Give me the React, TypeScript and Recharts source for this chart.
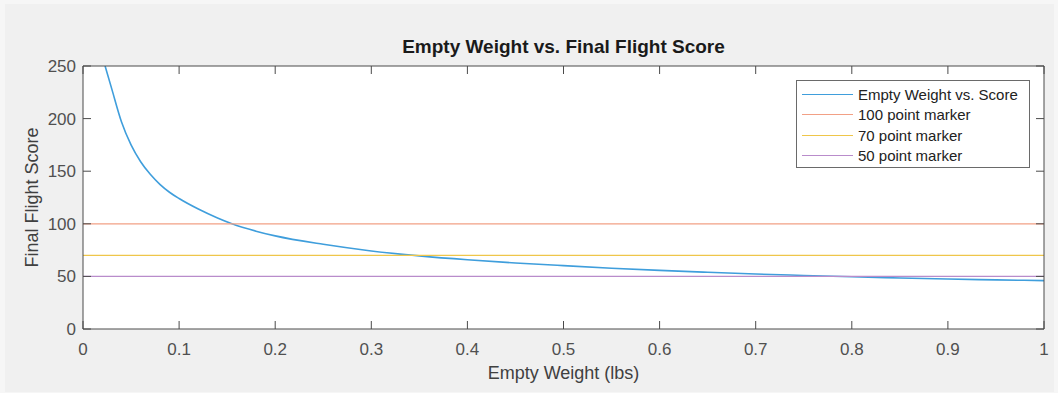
import React from 'react';
import { LineChart, Line, XAxis, YAxis, CartesianGrid, Legend, Label } from 'recharts';

// empty weight (lbs) and the final flight score
const weights = [
  0.023, 0.03, 0.04, 0.05, 0.06, 0.07, 0.08, 0.09, 0.1, 0.12, 0.14, 0.155, 0.18, 0.2, 0.25,
  0.3, 0.35, 0.4, 0.45, 0.5, 0.55, 0.6, 0.65, 0.7, 0.75, 0.8, 0.85, 0.9, 0.95, 1.0,
];
const scores = [
  250, 228, 197, 175, 159, 147, 137.5, 130, 124, 114, 105.5, 100, 93, 88.5, 80.5,
  74.2, 69.5, 65.8, 62.8, 60.2, 57.8, 55.7, 53.9, 52.3, 50.9, 49.6, 48.5, 47.5, 46.7, 46,
];

const curveName = 'Empty Weight vs. Score';
const markerLevels = [100, 70, 50];
const markerNames = ['100 point marker', '70 point marker', '50 point marker'];
const markerColors = ['#f2a085', '#efc64a', '#b98ccb'];

const xTicks = [0, 0.1, 0.2, 0.3, 0.4, 0.5, 0.6, 0.7, 0.8, 0.9, 1];
const yTicks = [0, 50, 100, 150, 200, 250];

const CURVE_COLOR = '#3f9edc';
const AXIS_COLOR = '#4a4a4a';
const FONT = '"Liberation Sans", Arial, sans-serif';

const curveData = weights.map((w, i) => ({ weight: w, score: scores[i] }));
const markerData = (level: number) => [
  { weight: 0, score: level },
  { weight: 1, score: level },
];
const noLabel = () => '';

function FigureLegend() {
  const names = [curveName, ...markerNames];
  const colors = [CURVE_COLOR, ...markerColors];
  return (
    <div
      style={{
        background: '#fff',
        border: '1px solid #6a6a6a',
        padding: '3px 6px 1px 5px',
        fontFamily: FONT,
        fontSize: 15,
        color: '#222',
        boxSizing: 'border-box',
        width: 234,
      }}
    >
      {names.map((name, i) => (
        <div key={name} style={{ display: 'flex', alignItems: 'center', height: 20.5 }}>
          <span style={{ width: 51, borderTop: `1.5px solid ${colors[i]}`, marginRight: 5 }} />
          <span>{name}</span>
        </div>
      ))}
    </div>
  );
}

export default function App() {
  const tickStyle = { fontSize: 17, fill: '#505050', fontFamily: FONT };
  return (
    <div
      style={{
        position: 'absolute',
        left: 0,
        top: 0,
        width: 1058,
        height: 393,
        background: '#f6f6f6',
      }}
    >
      <div
        style={{
          position: 'absolute',
          left: 5,
          top: 4,
          right: 4,
          bottom: 1,
          background: '#f0f0f0',
        }}
      />
      <div
        style={{
          position: 'absolute',
          top: 36,
          left: 83,
          width: 961,
          textAlign: 'center',
          fontFamily: FONT,
          fontWeight: 'bold',
          fontSize: 19,
          color: '#1a1a1a',
        }}
      >
        Empty Weight vs. Final Flight Score
      </div>
      <LineChart
        width={1058}
        height={393}
        margin={{ top: 65, right: 13, bottom: 14, left: 0 }}
        style={{ position: 'absolute', left: 0, top: 0 }}
      >
        <CartesianGrid fill="#fff" horizontal={false} vertical={false} />
        <XAxis
          xAxisId="main"
          dataKey="weight"
          type="number"
          domain={[0, 1]}
          ticks={xTicks}
          allowDataOverflow
          height={50}
          tickSize={-8}
          tickMargin={22}
          stroke={AXIS_COLOR}
          tick={tickStyle}
          interval={0}
        >
          <Label
            value="Empty Weight (lbs)"
            position="insideBottom"
            offset={0}
            style={{ fontSize: 18, fill: '#404040', fontFamily: FONT }}
          />
        </XAxis>
        <XAxis
          xAxisId="top"
          orientation="top"
          dataKey="weight"
          type="number"
          domain={[0, 1]}
          ticks={xTicks}
          allowDataOverflow
          height={1}
          tickSize={-8}
          tickFormatter={noLabel}
          stroke={AXIS_COLOR}
          interval={0}
        />
        <YAxis
          yAxisId="main"
          type="number"
          domain={[0, 250]}
          ticks={yTicks}
          allowDataOverflow
          width={83}
          tickSize={-8}
          tickMargin={15}
          stroke={AXIS_COLOR}
          tick={tickStyle}
          interval={0}
        >
          <Label
            value="Final Flight Score"
            angle={-90}
            position="insideLeft"
            offset={32}
            style={{ fontSize: 18, fill: '#404040', fontFamily: FONT, textAnchor: 'middle' }}
          />
        </YAxis>
        <YAxis
          yAxisId="right"
          orientation="right"
          type="number"
          domain={[0, 250]}
          ticks={yTicks}
          allowDataOverflow
          width={1}
          tickSize={-8}
          tickFormatter={noLabel}
          stroke={AXIS_COLOR}
          interval={0}
        />
        <Legend
          layout="vertical"
          align="center"
          verticalAlign="middle"
          wrapperStyle={{ top: 80, left: 796, width: 234 }}
          content={<FigureLegend />}
        />
        {/* invisible copy so the top and right box axes get a scale */}
        <Line
          xAxisId="top"
          yAxisId="right"
          data={curveData}
          dataKey="score"
          stroke="none"
          legendType="none"
          dot={false}
          activeDot={false}
          isAnimationActive={false}
        />
        <Line
          xAxisId="main"
          yAxisId="main"
          data={curveData}
          dataKey="score"
          name={curveName}
          type="monotone"
          stroke={CURVE_COLOR}
          strokeWidth={1.6}
          dot={false}
          isAnimationActive={false}
        />
        {markerLevels.map((level, i) => (
          <Line
            key={markerNames[i]}
            xAxisId="main"
            yAxisId="main"
            data={markerData(level)}
            dataKey="score"
            name={markerNames[i]}
            type="linear"
            stroke={markerColors[i]}
            strokeWidth={1.2}
            dot={false}
            isAnimationActive={false}
          />
        ))}
      </LineChart>
    </div>
  );
}
